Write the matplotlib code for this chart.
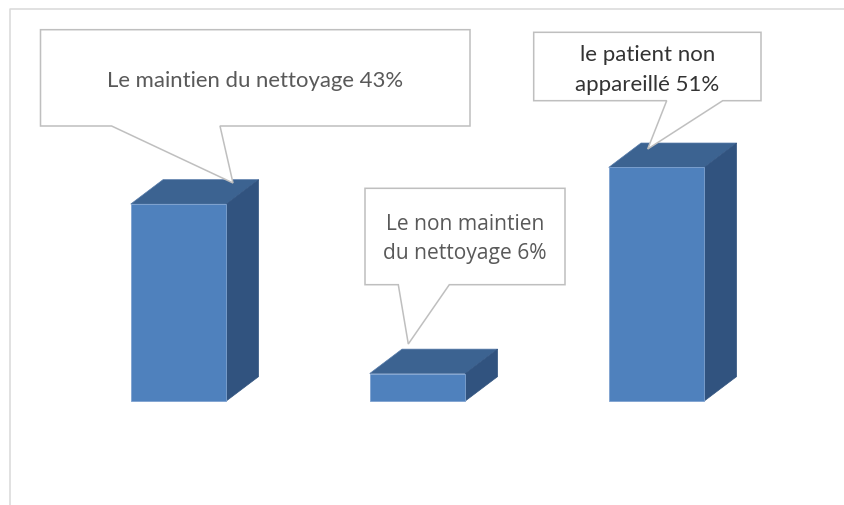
import matplotlib
matplotlib.use("Agg")
import matplotlib.pyplot as plt
from matplotlib.patches import Polygon
import numpy as np

# ---- data ----
categories = ["Le maintien du nettoyage", "Le non maintien du nettoyage", "le patient non appareillé"]
values = [43, 6, 51]
labels = ["Le maintien du nettoyage 43%", "Le non maintien\ndu nettoyage 6%", "le patient non\nappareillé 51%"]

W, H, DPI = 845, 506, 100
fig = plt.figure(figsize=(W / DPI, H / DPI), dpi=DPI)
fig.patch.set_facecolor("white")

# main data axes covering the whole figure
ax = fig.add_axes([0, 0, 1, 1])
spacing_px = 239.0
x0_px = 178.5
base_px = 402.0
px_per_pct = 4.58
ax.set_xlim(-x0_px / spacing_px, (W - x0_px) / spacing_px)
ax.set_ylim(-(H - base_px) / px_per_pct, base_px / px_per_pct)
ax.axis("off")

bar_w = 95.5 / spacing_px
dx = 32.3 / spacing_px
dy = 24.4 / px_per_pct

front_c = "#4F81BD"
top_c = "#3C6391"
side_c = "#31537F"

xs = np.arange(len(values))
ax.bar(xs, values, width=bar_w, color=front_c, edgecolor="#7EA2D0", linewidth=0.6, zorder=3)
for x, v in zip(xs, values):
    l, r = x - bar_w / 2, x + bar_w / 2
    top = Polygon([(l, v), (r, v), (r + dx, v + dy), (l + dx, v + dy)], closed=True,
                  facecolor=top_c, edgecolor="#5479A8", linewidth=0.5, zorder=2)
    side = Polygon([(r, 0), (r + dx, dy), (r + dx, v + dy), (r, v)], closed=True,
                   facecolor=side_c, edgecolor=side_c, linewidth=0.5, zorder=2)
    ax.add_patch(top)
    ax.add_patch(side)

# overlay axes in pixel coords for frame and callouts
ov = fig.add_axes([0, 0, 1, 1])
ov.set_xlim(0, W)
ov.set_ylim(H, 0)
ov.axis("off")
ov.patch.set_alpha(0)

# chart frame
ov.plot([10, 10, W + 5], [H + 5, 10, 10], color="#D9D9D9", lw=1.1, solid_capstyle="butt")

def callout(box, base, tip):
    x1, y1, x2, y2 = box
    b1, b2 = base
    pts = [(x1, y1), (x2, y1), (x2, y2), (b2, y2), tip, (b1, y2), (x1, y2)]
    ov.add_patch(Polygon(pts, closed=True, facecolor="white", edgecolor="#BFBFBF",
                         linewidth=1.1, zorder=5, joinstyle="miter"))

renderer = fig.canvas.get_renderer()

def fit_text(x, y, s, target_w, family, color, ls=1.35):
    t = ov.text(x, y, s, ha="center", va="center", family=family, color=color,
                fontsize=12, zorder=6, linespacing=ls)
    w = t.get_window_extent(renderer).width
    t.set_fontsize(12 * target_w / w)
    return t

# callout 1
callout((40.5, 30.7, 470, 127), (111.6, 220), (233, 184))
fit_text(255, 81, labels[0], 296, "Lato", "#595959")

# callout 2
callout((365, 189.3, 565, 285.7), (398.3, 449.3), (408.3, 345))
fit_text(465, 239, labels[1], 164, "Open Sans", "#595959", ls=1.5)

# callout 3
callout((533.7, 33.3, 761, 101.7), (666.7, 722.7), (647.7, 150))
fit_text(647.5, 70, labels[2], 144, "Lato", "#333333", ls=1.6)

fig.savefig("out.png", dpi=DPI, facecolor="white")
